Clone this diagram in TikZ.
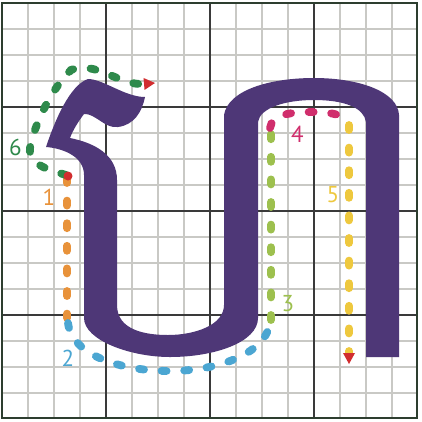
\documentclass[tikz,border=0pt]{standalone}
\usepackage{fontspec}
\setmainfont{PT Sans}
\usetikzlibrary{arrows.meta}
\definecolor{glyph}{HTML}{4E3777}
\definecolor{minorgrid}{HTML}{C9C9C5}
\definecolor{majorgrid}{HTML}{3A3A3A}
\definecolor{framecol}{HTML}{2D3E2F}
\definecolor{cone}{HTML}{E8923A}
\definecolor{ctwo}{HTML}{4BA6D2}
\definecolor{cthree}{HTML}{9DC04E}
\definecolor{cfour}{HTML}{D02E6C}
\definecolor{cfive}{HTML}{EEC83E}
\definecolor{csix}{HTML}{2E8A4B}
\definecolor{tipred}{HTML}{D12D2F}
\tikzset{
  minorline/.style={draw=minorgrid, line width=2pt},
  majorline/.style={draw=majorgrid, line width=1.8pt},
  strokepath/.style={line width=7.8pt, line cap=round, dash pattern=on 5pt off 17.6pt},
  num/.style={font=\fontsize{23}{23}\selectfont, inner sep=0pt},
  redtip/.style={-{Triangle[width=12pt,length=11pt,line width=0pt,color=tipred,fill=tipred]}}
}
\begin{document}
\begin{tikzpicture}[x=1pt,y=-1pt]
\useasboundingbox (0,0) rectangle (422,421);
\fill[white] (0,0) rectangle (422,421);
% grid
\foreach \k in {1,2,3,5,6,7,9,10,11,13,14,15}{
  \draw[minorline] ({2+26*\k},3) -- ({2+26*\k},418);
  \draw[minorline] (2,{3+26*\k}) -- (417,{3+26*\k});
}
\foreach \k in {4,8,12}{
  \draw[majorline] ({2+26*\k},3) -- ({2+26*\k},418);
  \draw[majorline] (2,{3+26*\k}) -- (417,{3+26*\k});
}
\draw[draw=framecol, line width=2.8pt] (2,3) rectangle (417,418);
% glyph
\fill[glyph] (88,79)
  .. controls (103,79) and (125,97) .. (145,97)
  .. controls (142,112) and (134,125) .. (118,127)
  .. controls (105,129) and (95,113) .. (84,114)
  .. controls (78,122) and (73,130) .. (70,138)
  .. controls (95,143) and (117,155) .. (117,180)
  -- (117,305)
  .. controls (117,330) and (145,335) .. (168,335)
  .. controls (195,335) and (224,325) .. (224,305)
  -- (224,115)
  .. controls (228,90) and (270,78) .. (314,78)
  .. controls (360,78) and (398,92) .. (399,115)
  -- (399,357) -- (366,357) -- (366,122)
  .. controls (364,108) and (345,100) .. (314,100)
  .. controls (285,100) and (260,108) .. (258,122)
  -- (258,318)
  .. controls (258,342) and (215,357) .. (170,357)
  .. controls (130,357) and (84,340) .. (84,318)
  -- (84,175)
  .. controls (84,155) and (60,148) .. (46,147)
  .. controls (55,120) and (70,85) .. (88,79) -- cycle;
% coordinates for the strokes
\coordinate (s1a) at (67,178);
\coordinate (s1b) at (67,318);
\coordinate (s2a) at (68,323);
\coordinate (s2m) at (170,371);
\coordinate (s2b) at (270,323);
\coordinate (s3a) at (271,320);
\coordinate (s3b) at (271,131);
\coordinate (s4a) at (270,128);
\coordinate (s4m) at (312,112);
\coordinate (s4b) at (346,119);
\coordinate (s5a) at (349,125);
\coordinate (s5b) at (349,364);
\coordinate (s6a) at (66,175);
\coordinate (s6m) at (30,148);
\coordinate (s6n) at (71,70);
\coordinate (s6b) at (155,83);
% strokes
\draw[strokepath, cone] (s1a) -- (s1b);
\draw[strokepath, ctwo] (s2a) .. controls (72,355) and (120,371) .. (s2m)
  .. controls (215,371) and (265,355) .. (s2b);
\draw[strokepath, cthree] (s3a) -- (s3b);
\draw[strokepath, cfour] (s4a) .. controls (272,114) and (292,112) .. (s4m)
  .. controls (328,112) and (340,114) .. (s4b);
\draw[strokepath, cfive, redtip] (s5a) -- (s5b);
\draw[strokepath, csix, redtip] (s6a) .. controls (50,170) and (28,165) .. (s6m)
  .. controls (34,125) and (52,88) .. (s6n)
  .. controls (95,60) and (120,86) .. (s6b);
% start dot
\node[circle, fill=tipred, minimum size=9pt, inner sep=0pt] (start) at (68,176) {};
% labels
\node[num, text=cone] (l1) at (49,197) {1};
\node[num, text=ctwo] (l2) at (68,358) {2};
\node[num, text=cthree] (l3) at (288,304) {3};
\node[num, text=cfour] (l4) at (297.5,134) {4};
\node[num, text=cfive] (l5) at (333,195) {5};
\node[num, text=csix] (l6) at (15.5,147) {6};
\end{tikzpicture}
\end{document}
